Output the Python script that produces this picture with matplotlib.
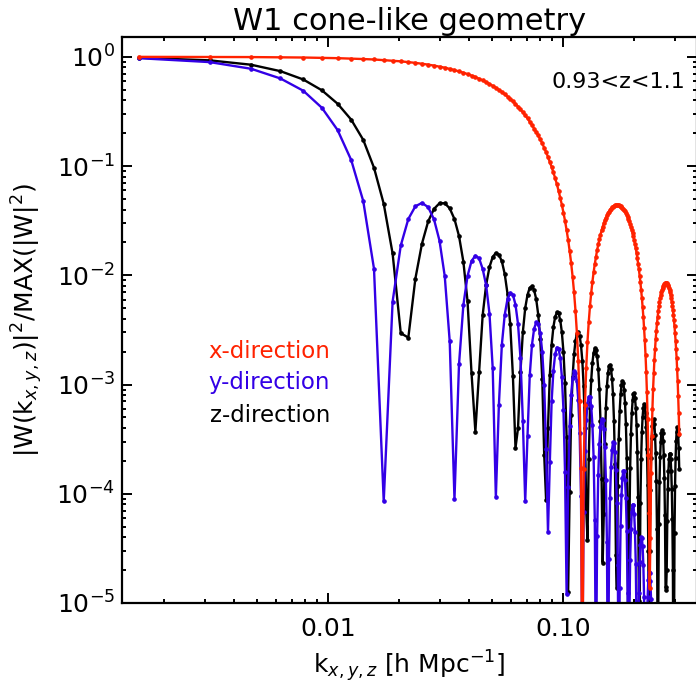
import matplotlib
matplotlib.use("Agg")
import matplotlib.pyplot as plt
import numpy as np
from matplotlib.ticker import FixedLocator, FixedFormatter, LogLocator, NullFormatter

# FFT mode spacing of the survey box, in h/Mpc; modes n = 1..199
K_STEP = 0.0015708
k_modes = K_STEP * np.arange(1, 200)

# log10 |W(k)|^2 / max, one value per mode, along each box direction
x_dir_log = [
    -0.000, -0.001, -0.002, -0.004, -0.006, -0.009, -0.012, -0.016, -0.020, -0.024,
    -0.030, -0.035, -0.041, -0.048, -0.055, -0.063, -0.071, -0.080, -0.090, -0.099,
    -0.110, -0.121, -0.133, -0.145, -0.157, -0.171, -0.185, -0.200, -0.215, -0.231,
    -0.248, -0.265, -0.283, -0.302, -0.321, -0.342, -0.363, -0.385, -0.407, -0.431,
    -0.455, -0.481, -0.507, -0.535, -0.563, -0.593, -0.624, -0.656, -0.690, -0.719,
    -0.755, -0.792, -0.832, -0.873, -0.916, -0.961, -1.008, -1.058, -1.110, -1.166,
    -1.225, -1.288, -1.354, -1.426, -1.502, -1.586, -1.676, -1.776, -1.887, -2.012,
    -2.155, -2.323, -2.526, -2.786, -3.149, -3.762, -6.000, -3.774, -3.183, -2.844,
    -2.606, -2.426, -2.281, -2.161, -2.059, -1.972, -1.896, -1.829, -1.769, -1.717,
    -1.670, -1.627, -1.589, -1.555, -1.525, -1.498, -1.473, -1.452, -1.433, -1.416,
    -1.401, -1.389, -1.379, -1.370, -1.364, -1.359, -1.356, -1.355, -1.355, -1.357,
    -1.361, -1.366, -1.373, -1.381, -1.391, -1.402, -1.415, -1.430, -1.446, -1.464,
    -1.484, -1.505, -1.528, -1.555, -1.583, -1.612, -1.644, -1.678, -1.715, -1.754,
    -1.797, -1.842, -1.892, -1.944, -2.002, -2.064, -2.131, -2.206, -2.287, -2.378,
    -2.479, -2.594, -2.727, -2.883, -3.072, -3.313, -3.644, -4.180, -4.860, -4.406,
    -3.811, -3.468, -3.227, -3.043, -2.896, -2.774, -2.671, -2.583, -2.506, -2.439,
    -2.381, -2.329, -2.284, -2.244, -2.210, -2.179, -2.153, -2.131, -2.113, -2.098,
    -2.086, -2.078, -2.072, -2.070, -2.070, -2.074, -2.080, -2.090, -2.102, -2.117,
    -2.136, -2.157, -2.182, -2.210, -2.242, -2.278, -2.318, -2.363, -2.413, -2.468,
    -2.529, -2.598, -2.674, -2.761, -2.859, -2.972, -3.104, -3.261, -3.455,
]
y_dir_log = [
    -0.012, -0.048, -0.109, -0.198, -0.310, -0.466, -0.670, -0.945, -1.320, -1.940,
    -4.070, -2.241, -1.727, -1.484, -1.368, -1.337, -1.376, -1.487, -1.683, -2.007,
    -2.605, -4.050, -2.816, -2.274, -2.007, -1.869, -1.820, -1.844, -1.941, -2.090,
    -2.350, -2.850, -4.030, -3.184, -2.635, -2.361, -2.216, -2.160, -2.178, -2.268,
    -2.445, -2.753, -3.336, -4.070, -3.469, -2.916, -2.638, -2.490, -2.430, -2.444,
    -2.530, -2.704, -3.008, -3.587, -4.350, -3.709, -3.153, -2.873, -2.723, -2.661,
    -2.671, -2.755, -2.927, -3.229, -3.805, -4.920, -3.935, -3.378, -3.096, -2.944,
    -2.880, -2.890, -2.972, -3.142, -3.442, -4.017, -5.600, -4.169, -3.611, -3.328,
    -3.175, -3.110, -3.118, -3.199, -3.368, -3.667, -4.241, -5.800, -4.384, -3.825,
    -3.541, -3.386, -3.320, -3.327, -3.408, -3.575, -3.873, -4.446, -6.000, -4.596,
    -4.036, -3.751, -3.597, -3.530, -3.536, -3.615, -3.783, -4.080, -4.652, -6.200,
    -4.859, -4.298, -4.013, -3.857, -3.790, -3.796, -3.875, -4.041, -4.338, -4.909,
    -6.300, -5.171, -4.610, -4.324, -4.168, -4.100, -4.106, -4.184, -4.350, -4.646,
    -5.217, -6.400, -5.472, -4.910, -4.624, -4.468, -4.400, -4.404, -4.482, -4.648,
    -4.944, -5.514, -6.500, -5.790, -5.230, -4.945, -4.788, -4.720, -4.726, -4.802,
    -4.967, -5.262, -5.833, -6.600, -6.130, -5.570, -5.280, -5.120, -5.050, -5.060,
    -5.130, -5.300, -5.600, -6.170, -6.700, -6.480, -5.920, -5.630, -5.470, -5.400,
    -5.410, -5.490, -5.650, -5.950, -6.520, -7.000, -6.830, -6.270, -5.980, -5.820,
    -5.750, -5.760, -5.840, -6.000, -6.300, -6.870, -7.200, -7.180, -6.620, -6.330,
    -6.170, -6.100, -6.110, -6.190, -6.350, -6.650, -7.220, -7.500, -7.550,
]
z_dir_log = [
    -0.008, -0.032, -0.072, -0.131, -0.207, -0.306, -0.429, -0.575, -0.760, -1.015,
    -1.345, -1.800, -2.530, -2.570, -2.030, -1.710, -1.507, -1.392, -1.340, -1.340,
    -1.387, -1.485, -1.640, -1.874, -2.235, -2.895, -3.430, -2.881, -2.365, -2.088,
    -1.924, -1.832, -1.795, -1.811, -1.872, -1.988, -2.170, -2.450, -2.921, -3.580,
    -3.400, -2.882, -2.518, -2.300, -2.178, -2.114, -2.100, -2.134, -2.218, -2.362,
    -2.587, -2.949, -3.646, -4.060, -3.397, -2.911, -2.635, -2.472, -2.380, -2.340,
    -2.349, -2.408, -2.520, -2.701, -2.990, -3.478, -4.900, -3.986, -3.276, -2.931,
    -2.723, -2.600, -2.533, -2.520, -2.554, -2.639, -2.783, -3.015, -3.394, -4.151,
    -4.420, -3.679, -3.219, -2.961, -2.799, -2.709, -2.670, -2.681, -2.742, -2.856,
    -3.041, -3.337, -3.864, -4.630, -4.188, -3.546, -3.212, -3.012, -2.894, -2.832,
    -2.820, -2.856, -2.945, -3.090, -3.331, -3.727, -4.558, -4.860, -3.928, -3.494,
    -3.246, -3.091, -3.006, -2.970, -2.985, -3.048, -3.167, -3.363, -3.668, -4.232,
    -6.000, -4.362, -3.768, -3.452, -3.260, -3.146, -3.088, -3.080, -3.121, -3.212,
    -3.368, -3.617, -4.034, -4.980, -5.080, -4.086, -3.679, -3.439, -3.293, -3.211,
    -3.180, -3.198, -3.265, -3.389, -3.591, -3.916, -4.521, -6.200, -4.523, -3.968,
    -3.673, -3.488, -3.378, -3.325, -3.320, -3.365, -3.461, -3.626, -3.884, -4.327,
    -5.400, -5.096, -4.275, -3.890, -3.659, -3.524, -3.446, -3.420, -3.442, -3.514,
    -3.643, -3.853, -4.198, -4.850, -4.880, -4.700, -4.245, -3.960, -3.790, -3.685,
    -3.635, -3.635, -3.685, -3.790, -3.960, -4.230, -4.700, -5.900, -5.430, -4.360,
    -3.926, -3.675, -3.517, -3.430, -3.392, -3.404, -3.465, -3.582, -3.775,
]

series = [
    ("x-direction", x_dir_log, "#ff2200"),
    ("y-direction", y_dir_log, "#3300e6"),
    ("z-direction", z_dir_log, "#000000"),
]

plt.rcParams["font.family"] = ["DejaVu Sans"]
plt.rcParams["mathtext.fontset"] = "dejavusans"
plt.rcParams["font.size"] = 18

W, H = 696, 690
fig = plt.figure(figsize=(W / 100, H / 100), dpi=100)
ax = fig.add_axes([122 / W, 1 - 603 / H, 575 / W, 566 / H])

# draw red last so it sits over the other two where they cross
for name, logs, color in [series[2], series[1], series[0]]:
    ax.plot(k_modes, 10.0 ** np.asarray(logs), "-", color=color, lw=1.7,
            marker="o", ms=2.3, mec=color, mfc=color)

ax.set_xscale("log")
ax.set_yscale("log")
ax.set_xlim(0.00133, 0.372)
ax.set_ylim(1e-5, 1.52)

ax.xaxis.set_major_locator(FixedLocator([0.01, 0.1]))
ax.xaxis.set_major_formatter(FixedFormatter(["0.01", "0.10"]))
ax.xaxis.set_minor_locator(LogLocator(base=10, subs=np.arange(2, 10), numticks=20))
ax.xaxis.set_minor_formatter(NullFormatter())
ax.yaxis.set_major_locator(LogLocator(base=10, numticks=20))
ax.yaxis.set_minor_locator(LogLocator(base=10, subs=np.arange(2, 10), numticks=20))
ax.yaxis.set_minor_formatter(NullFormatter())

ax.tick_params(which="both", direction="in", top=True, right=True, width=1.4)
ax.tick_params(which="major", length=7.5, labelsize=18)
ax.tick_params(which="minor", length=3.2)
ax.tick_params(axis="x", which="major", pad=10)
ax.tick_params(axis="y", which="major", pad=5)
for spine in ax.spines.values():
    spine.set_linewidth(1.6)

ax.set_title("W1 cone-like geometry", fontsize=22, pad=5)
ax.set_xlabel(r"k$_{x,y,z}$ [h Mpc$^{-1}$]", fontsize=18, labelpad=5)
ax.set_ylabel(r"|W(k$_{x,y,z}$)|$^2$/MAX(|W|$^2$)", fontsize=18, labelpad=8)

ax.text(0.979, 0.9205, "0.93<z<1.1", transform=ax.transAxes,
        ha="right", va="center", fontsize=16)

legend_y = [0.4435, 0.3887, 0.332]
for (name, _, color), ty in zip(series, legend_y):
    ax.text(0.362, ty, name, color=color, transform=ax.transAxes,
            ha="right", va="center", fontsize=16.5)

fig.savefig("out.png", dpi=100, facecolor="white")
